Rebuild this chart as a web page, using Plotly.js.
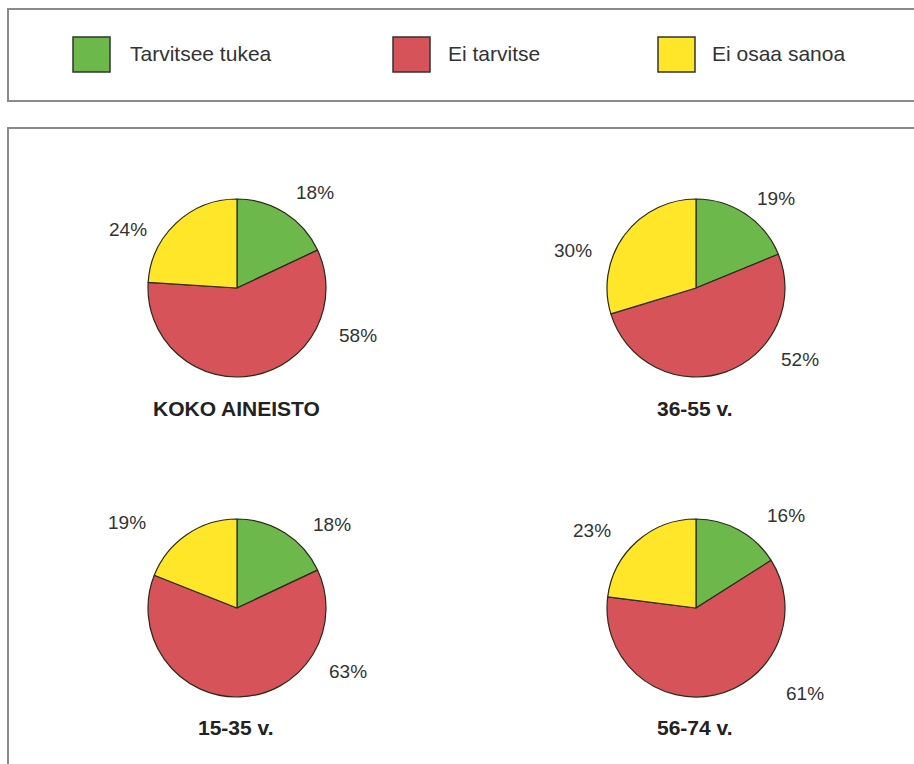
<!DOCTYPE html>
<html>
<head>
<meta charset="utf-8">
<script src="https://cdn.plot.ly/plotly-3.0.1.min.js"></script>
<style>
html,body{margin:0;padding:0;background:#fff;}
#chart{width:914px;height:764px;}
</style>
</head>
<body>
<div id="chart"></div>
<script>
// ---- data ----
const categories = ['Tarvitsee tukea', 'Ei tarvitse', 'Ei osaa sanoa'];
const groups = ['KOKO AINEISTO', '36-55 v.', '15-35 v.', '56-74 v.'];
const kokoAineisto = [18, 58, 24];
const age36_55 = [19, 52, 30];
const age15_35 = [18, 63, 19];
const age56_74 = [16, 61, 23];
const seriesByGroup = [kokoAineisto, age36_55, age15_35, age56_74];

// ---- styling / layout ----
const colors = ['#6cb84a', '#d6535a', '#ffe629'];
const W = 914, H = 764;
const px = x => x / W;
const py = y => 1 - y / H;
const pieCenters = [[237, 288], [696, 288], [237, 608], [696, 608]];
const pieR = 89;
const labelPos = [
  [[315, 192], [358, 335], [128, 229]],
  [[776, 198], [800, 360], [573, 250]],
  [[332, 524], [348, 671], [127, 522]],
  [[786, 515], [805, 693], [592, 530]]
];
const titlePos = [[236, 408], [695, 408], [236, 727], [695, 727]];
const legendSquares = [[73, 37], [393, 37], [658, 37]];
const legendSquareSize = [37, 35];
const legendTextX = [128, 446, 710];
const legendY = 54;

const font = '"Liberation Sans", Arial, sans-serif';

const traces = seriesByGroup.map((vals, i) => {
  const [cx, cy] = pieCenters[i];
  return {
    type: 'pie',
    labels: categories,
    values: vals,
    sort: false,
    direction: 'clockwise',
    rotation: 0,
    textinfo: 'none',
    hoverinfo: 'skip',
    showlegend: false,
    marker: {colors: colors, line: {color: '#2a2a1a', width: 1.2}},
    domain: {x: [px(cx - pieR), px(cx + pieR)], y: [py(cy + pieR), py(cy - pieR)]}
  };
});

const shapes = [
  // legend box
  {type: 'rect', xref: 'paper', yref: 'paper', x0: px(8), x1: px(930), y0: py(101), y1: py(9),
   line: {color: '#8a8a8a', width: 2}, fillcolor: 'rgba(0,0,0,0)'},
  // main box
  {type: 'rect', xref: 'paper', yref: 'paper', x0: px(8), x1: px(930), y0: py(790), y1: py(128),
   line: {color: '#8a8a8a', width: 2}, fillcolor: 'rgba(0,0,0,0)'}
];
legendSquares.forEach((p, i) => {
  shapes.push({type: 'rect', xref: 'paper', yref: 'paper',
    x0: px(p[0]), x1: px(p[0] + legendSquareSize[0]),
    y0: py(p[1] + legendSquareSize[1]), y1: py(p[1]),
    fillcolor: colors[i], line: {color: '#333', width: 1.5}});
});

const annotations = [];
categories.forEach((c, i) => {
  annotations.push({xref: 'paper', yref: 'paper', x: px(legendTextX[i]), y: py(legendY),
    xanchor: 'left', yanchor: 'middle', showarrow: false, text: c,
    font: {family: font, size: 21, color: '#333'}});
});
seriesByGroup.forEach((vals, g) => {
  vals.forEach((v, k) => {
    const [lx, ly] = labelPos[g][k];
    annotations.push({xref: 'paper', yref: 'paper', x: px(lx), y: py(ly),
      xanchor: 'center', yanchor: 'middle', showarrow: false, text: v + '%',
      font: {family: font, size: 19, color: '#333'}});
  });
  const [tx, ty] = titlePos[g];
  annotations.push({xref: 'paper', yref: 'paper', x: px(tx), y: py(ty),
    xanchor: 'center', yanchor: 'middle', showarrow: false, text: '<b>' + groups[g] + '</b>',
    font: {family: font, size: 21, color: '#222'}});
});

const layout = {
  width: W, height: H,
  margin: {l: 0, r: 0, t: 0, b: 0},
  paper_bgcolor: '#ffffff',
  showlegend: false,
  shapes: shapes,
  annotations: annotations
};

Plotly.newPlot('chart', traces, layout, {displayModeBar: false, staticPlot: true});
</script>
</body>
</html>
